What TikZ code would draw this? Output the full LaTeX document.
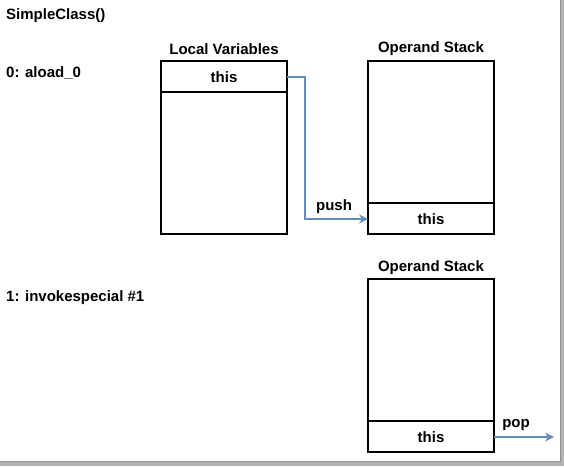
\documentclass[tikz,border=0pt]{standalone}
\usepackage{fontspec}
\setmainfont{Liberation Sans}
\usetikzlibrary{arrows.meta}
\begin{document}
\begin{tikzpicture}[x=1pt,y=-1pt,
  lbl/.style={font=\fontsize{15}{17}\selectfont\bfseries, inner sep=0pt},
  boxst/.style={draw=black, line width=1.8pt},
  flow/.style={draw={rgb,255:red,100;green,140;blue,190}, line width=2.2pt, -{Stealth[length=9pt,width=9pt]}}]
\useasboundingbox (0,0) rectangle (564,466);
\fill[white] (0,0) rectangle (564,466);
% frame shadow
\fill[gray!60] (560,0) rectangle (564,466);
\fill[gray!60] (0,461) rectangle (564,466);
\draw[gray!85, line width=1pt] (560.5,0) -- (560.5,461.5) -- (0,461.5);

\node[lbl, anchor=west] (title) at (6,16) {SimpleClass()};
\node[lbl, anchor=west] (i0) at (6,73) {0: aload\_0};
\node[lbl, anchor=west] (i1) at (6,298) {1: invokespecial \#1};

% Local variables
\node[lbl] (lvl) at (224,49) {Local Variables};
\draw[boxst] (161,61) rectangle (287,234);
\draw[boxst] (161,92) -- (287,92);
\node[lbl] (lvthis) at (224,77) {this};
\coordinate (lvout) at (287,77);

% Operand stack 1
\node[lbl] (os1l) at (431,49) {Operand Stack};
\draw[boxst] (368,61) rectangle (494,234);
\draw[boxst] (368,203) -- (494,203);
\node[lbl] (os1this) at (431,219) {this};
\coordinate (os1in) at (368,219);

\draw[flow] (lvout) -- (305,77) -- (305,219) -- (os1in);
\node[lbl] (push) at (334,207) {push};

% Operand stack 2
\node[lbl] (os2l) at (431,268) {Operand Stack};
\draw[boxst] (368,279) rectangle (494,452);
\draw[boxst] (368,421) -- (494,421);
\node[lbl] (os2this) at (431,437) {this};
\coordinate (os2out) at (494,437);
\coordinate (popend) at (554,437);
\draw[flow] (os2out) -- (popend);
\node[lbl] (pop) at (516,425) {pop};
\end{tikzpicture}
\end{document}
